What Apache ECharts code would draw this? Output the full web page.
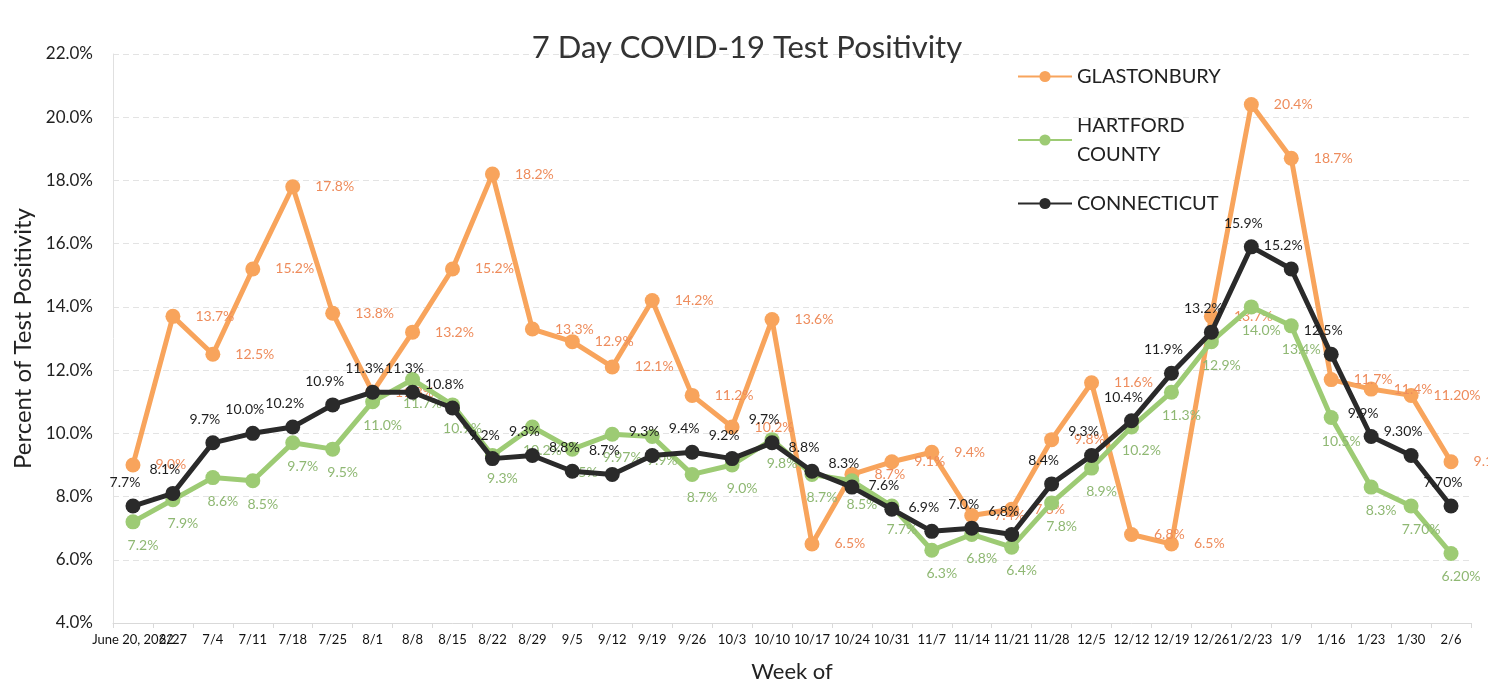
<!DOCTYPE html>
<html>
<head>
<meta charset="utf-8">
<script src="https://cdn.jsdelivr.net/npm/echarts@6/dist/echarts.min.js"></script>
<style>
  html, body { margin: 0; padding: 0; background: #fff; }
  #chart { width: 1488px; height: 688px; }
</style>
</head>
<body>
<div id="chart"></div>
<script>
var weeks = ['June 20, 2022', '6/27', '7/4', '7/11', '7/18', '7/25', '8/1', '8/8', '8/15', '8/22',
  '8/29', '9/5', '9/12', '9/19', '9/26', '10/3', '10/10', '10/17', '10/24', '10/31', '11/7',
  '11/14', '11/21', '11/28', '12/5', '12/12', '12/19', '12/26', '1/2/23', '1/9', '1/16',
  '1/23', '1/30', '2/6'];

var glastonbury = [9.0, 13.7, 12.5, 15.2, 17.8, 13.8, 11.3, 13.2, 15.2, 18.2, 13.3, 12.9, 12.1,
  14.2, 11.2, 10.2, 13.6, 6.5, 8.7, 9.1, 9.4, 7.4, 7.6, 9.8, 11.6, 6.8, 6.5, 13.7, 20.4, 18.7,
  11.7, 11.4, 11.2, 9.1];
var hartford = [7.2, 7.9, 8.6, 8.5, 9.7, 9.5, 11.0, 11.7, 10.9, 9.3, 10.2, 9.5, 9.97, 9.9, 8.7,
  9.0, 9.8, 8.7, 8.5, 7.7, 6.3, 6.8, 6.4, 7.8, 8.9, 10.2, 11.3, 12.9, 14.0, 13.4, 10.5, 8.3,
  7.7, 6.2];
var connecticut = [7.7, 8.1, 9.7, 10.0, 10.2, 10.9, 11.3, 11.3, 10.8, 9.2, 9.3, 8.8, 8.7, 9.3,
  9.4, 9.2, 9.7, 8.8, 8.3, 7.6, 6.9, 7.0, 6.8, 8.4, 9.3, 10.4, 11.9, 13.2, 15.9, 15.2, 12.5, 9.9,
  9.3, 7.7];

// label text as printed (a few points carry two decimals)
var glastonburyText = ['9.0', '13.7', '12.5', '15.2', '17.8', '13.8', '11.3', '13.2', '15.2',
  '18.2', '13.3', '12.9', '12.1', '14.2', '11.2', '10.2', '13.6', '6.5', '8.7', '9.1', '9.4',
  '7.4', '7.6', '9.8', '11.6', '6.8', '6.5', '13.7', '20.4', '18.7', '11.7', '11.4', '11.20', '9.10'];
var hartfordText = ['7.2', '7.9', '8.6', '8.5', '9.7', '9.5', '11.0', '11.7', '10.9', '9.3',
  '10.2', '9.5', '9.97', '9.9', '8.7', '9.0', '9.8', '8.7', '8.5', '7.7', '6.3', '6.8', '6.4',
  '7.8', '8.9', '10.2', '11.3', '12.9', '14.0', '13.4', '10.5', '8.3', '7.70', '6.20'];
var connecticutText = ['7.7', '8.1', '9.7', '10.0', '10.2', '10.9', '11.3', '11.3', '10.8',
  '9.2', '9.3', '8.8', '8.7', '9.3', '9.4', '9.2', '9.7', '8.8', '8.3', '7.6', '6.9', '7.0',
  '6.8', '8.4', '9.3', '10.4', '11.9', '13.2', '15.9', '15.2', '12.5', '9.9', '9.30', '7.70'];

var yTicks = [4, 6, 8, 10, 12, 14, 16, 18, 20, 22];

var font = 'Lato, "Liberation Sans", sans-serif';

function makeSeries(name, values, texts, lineColor, labelColor, labelPos, offset, z) {
  return {
    name: name,
    type: 'line',
    data: values,
    z: z,
    symbol: 'circle',
    symbolSize: 15,
    lineStyle: { width: 5, color: lineColor },
    itemStyle: { color: lineColor },
    label: {
      show: true,
      position: labelPos,
      offset: offset,
      distance: 9,
      color: labelColor,
      fontFamily: font,
      fontSize: 14,
      formatter: function (p) { return texts[p.dataIndex] + '%'; }
    }
  };
}

var chart = echarts.init(document.getElementById('chart'));
chart.setOption({
  backgroundColor: '#fff',
  animation: false,
  title: {
    text: '7 Day COVID-19 Test Positivity',
    left: 742,
    textAlign: 'center',
    top: 27,
    textStyle: { fontFamily: font, fontSize: 31, fontWeight: 'normal', color: '#333' }
  },
  legend: {
    orient: 'vertical',
    left: 1012,
    top: 57,
    itemWidth: 54,
    itemHeight: 14,
    itemGap: 20,
    formatter: function (n) { return n.replace(' ', '\n'); },
    textStyle: { fontFamily: font, fontSize: 20, color: '#222', lineHeight: 29 },
    data: ['GLASTONBURY', 'HARTFORD COUNTY', 'CONNECTICUT']
  },
  grid: { left: 113, right: 17, top: 54, bottom: 55 },
  xAxis: {
    type: 'category',
    data: weeks,
    name: 'Week of',
    nameLocation: 'middle',
    nameGap: 28,
    nameTextStyle: { fontFamily: font, fontSize: 22, color: '#222', padding: [10, 0, 0, 0] },
    axisLine: { lineStyle: { color: '#d9d9d9' } },
    axisTick: { show: true, lineStyle: { color: '#d9d9d9' } },
    axisLabel: { interval: 0, margin: 10, fontFamily: font, fontSize: 13, color: '#111' }
  },
  yAxis: {
    type: 'value',
    min: yTicks[0],
    max: yTicks[yTicks.length - 1],
    interval: 2,
    name: 'Percent of Test Positivity',
    nameLocation: 'middle',
    nameGap: 70,
    nameTextStyle: { fontFamily: font, fontSize: 24, color: '#222' },
    axisLine: { show: true, lineStyle: { color: '#e0e0e0' } },
    axisTick: { show: false },
    axisLabel: {
      margin: 20,
      fontFamily: font,
      fontSize: 17,
      color: '#222',
      formatter: function (v) { return v.toFixed(1) + '%'; }
    },
    splitLine: { lineStyle: { color: '#e3e3e3', type: [6, 4] } }
  },
  series: [
    makeSeries('GLASTONBURY', glastonbury, glastonburyText, '#F8A45C', '#EE8C5C', 'right', [6, 0], 2),
    makeSeries('HARTFORD COUNTY', hartford, hartfordText, '#9DCB74', '#8FB873', 'bottom', [10, 0], 3),
    makeSeries('CONNECTICUT', connecticut, connecticutText, '#2A2A2A', '#1e1e1e', 'top', [-8, 0], 4)
  ]
});
</script>
</body>
</html>
